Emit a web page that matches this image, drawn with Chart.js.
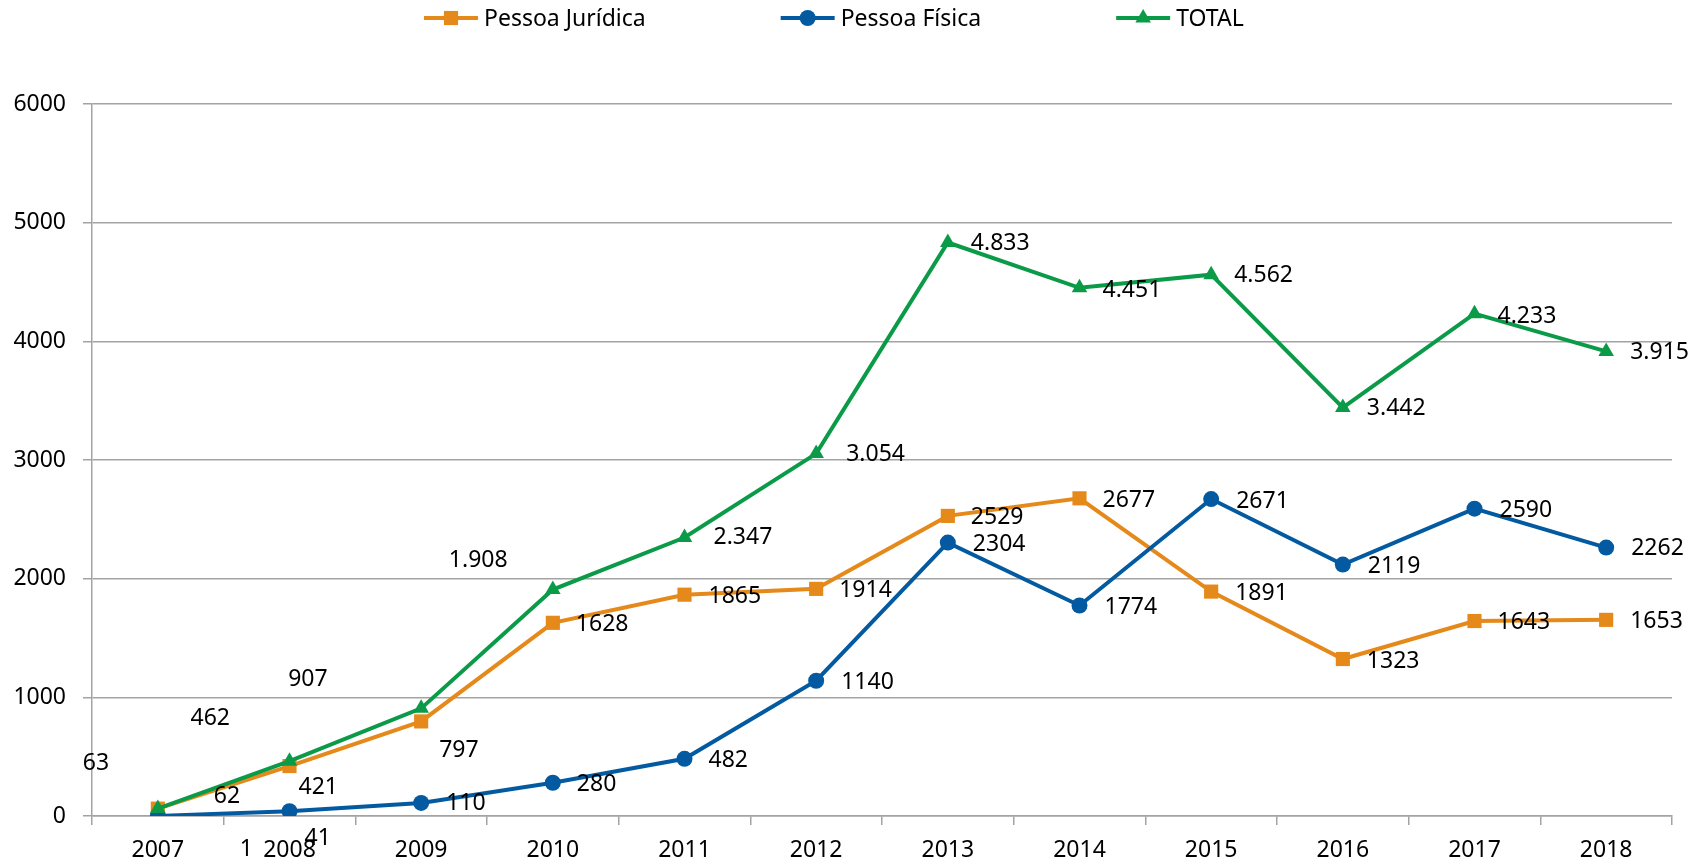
<!DOCTYPE html>
<html>
<head>
<meta charset="utf-8">
<script src="https://cdn.jsdelivr.net/npm/chart.js@4.4.0/dist/chart.umd.min.js"></script>
<style>
  html, body { margin: 0; padding: 0; background: #ffffff; }
  #wrap { width: 1695px; height: 865px; position: relative; }
  canvas { display: block; }
</style>
</head>
<body>
<div id="wrap"><canvas id="c" width="1695" height="865"></canvas></div>
<script>
// ---- Data ----
const years = ['2007','2008','2009','2010','2011','2012','2013','2014','2015','2016','2017','2018'];
const pessoaJuridica = [62, 421, 797, 1628, 1865, 1914, 2529, 2677, 1891, 1323, 1643, 1653];
const pessoaFisica   = [1, 41, 110, 280, 482, 1140, 2304, 1774, 2671, 2119, 2590, 2262];
const total          = [63, 462, 907, 1908, 2347, 3054, 4833, 4451, 4562, 3442, 4233, 3915];
const yTicks = [0, 1000, 2000, 3000, 4000, 5000, 6000];

// ---- Styling: data-label offsets (px from point: left edge dx, vertical dy) ----
const offJuridica = [[56,-12],[9,21],[18,29],[23,2],[24,2],[23,2],[23,2],[23,2],[24,2],[24,2],[23,1],[24,2]];
const offFisica   = [[82,34],[15,27],[25,1],[24,2],[24,2],[25,2],[25,2],[25,2],[25,2],[25,2],[25,2],[25,1]];
const offTotal    = [[-75,-45],[-99,-43],[-133,-29],[-104,-29],[29,0],[30,1],[23,1],[23,3],[23,1],[24,1],[23,3],[24,1]];

const FONT = '"Noto Sans", "DejaVu Sans", sans-serif';
const FS = 23;
const ORANGE = '#E5891A';
const BLUE = '#035AA0';
const GREEN = '#0B9B48';
const GRID = '#a3a3a3';

function thousandsDot(v) {
  return String(v).replace(/\B(?=(\d{3})+(?!\d))/g, '.');
}

const labelPlugin = {
  id: 'valueLabels',
  afterDatasetsDraw(chart) {
    const ctx = chart.ctx;
    ctx.save();
    ctx.font = FS + 'px ' + FONT;
    ctx.fillStyle = '#000';
    ctx.textAlign = 'left';
    ctx.textBaseline = 'middle';
    chart.data.datasets.forEach((ds, di) => {
      const meta = chart.getDatasetMeta(di);
      meta.data.forEach((pt, i) => {
        const o = ds.labelOffsets[i];
        const txt = ds.labelFormat ? ds.labelFormat(ds.data[i]) : String(ds.data[i]);
        ctx.fillText(txt, pt.x + o[0], pt.y + o[1]);
      });
    });
    ctx.restore();
  }
};

const legendPlugin = {
  id: 'lineLegend',
  afterDraw(chart) {
    const ctx = chart.ctx;
    ctx.save();
    ctx.font = FS + 'px ' + FONT;
    ctx.textAlign = 'left';
    ctx.textBaseline = 'middle';
    const cy = 18;
    let x = 424;
    chart.data.datasets.forEach((ds) => {
      ctx.strokeStyle = ds.borderColor;
      ctx.lineWidth = 4;
      ctx.beginPath();
      ctx.moveTo(x, cy);
      ctx.lineTo(x + 54, cy);
      ctx.stroke();
      ctx.fillStyle = ds.borderColor;
      Chart.helpers.drawPoint(ctx, {pointStyle: ds.pointStyle, radius: ds.pointRadius, rotation: 0, borderWidth: 0}, x + 27, cy);
      ctx.fillStyle = '#000';
      ctx.fillText(ds.label, x + 60, cy + 1);
      x += 60 + ctx.measureText(ds.label).width + 135;
    });
    ctx.restore();
  }
};

new Chart(document.getElementById('c'), {
  type: 'line',
  data: {
    labels: years,
    datasets: [
      {
        label: 'Pessoa Jurídica',
        data: pessoaJuridica,
        borderColor: ORANGE,
        backgroundColor: ORANGE,
        borderWidth: 4,
        pointStyle: 'rect',
        pointRadius: 10,
        pointBorderWidth: 0,
        tension: 0,
        order: 3,
        labelOffsets: offJuridica
      },
      {
        label: 'Pessoa Física',
        data: pessoaFisica,
        borderColor: BLUE,
        backgroundColor: BLUE,
        borderWidth: 4,
        pointStyle: 'circle',
        pointRadius: 8,
        pointBorderWidth: 0,
        tension: 0,
        order: 2,
        labelOffsets: offFisica
      },
      {
        label: 'TOTAL',
        data: total,
        borderColor: GREEN,
        backgroundColor: GREEN,
        borderWidth: 4,
        pointStyle: 'triangle',
        pointRadius: 9,
        pointBorderWidth: 0,
        tension: 0,
        order: 1,
        labelOffsets: offTotal,
        labelFormat: thousandsDot
      }
    ]
  },
  options: {
    responsive: false,
    animation: false,
    devicePixelRatio: 1,
    layout: { padding: { top: 104, right: 23, bottom: 0, left: 0 } },
    plugins: {
      legend: { display: false },
      tooltip: { enabled: false },
      title: { display: false }
    },
    scales: {
      x: {
        type: 'category',
        offset: true,
        grid: {
          offset: true,
          drawOnChartArea: false,
          drawTicks: true,
          tickLength: 9,
          color: GRID,
          lineWidth: 1.5
        },
        border: { display: true, color: GRID, width: 1.5 },
        ticks: {
          color: '#000',
          font: { family: FONT, size: FS },
          padding: 12,
          maxRotation: 0,
          autoSkip: false
        },
        afterFit(s) { s.height = 49; s.paddingLeft = 0; s.paddingRight = 0; }
      },
      y: {
        min: 0,
        max: 6000,
        afterBuildTicks(s) { s.ticks = yTicks.map(v => ({ value: v })); },
        grid: {
          drawOnChartArea: true,
          drawTicks: true,
          tickLength: 9,
          color: GRID,
          lineWidth: 1.5
        },
        border: { display: true, color: GRID, width: 1.5 },
        ticks: {
          color: '#000',
          font: { family: FONT, size: FS },
          padding: 17,
          callback: (v) => String(v)
        },
        afterFit(s) { s.width = 92; s.paddingTop = 0; s.paddingBottom = 0; }
      }
    }
  },
  plugins: [labelPlugin, legendPlugin]
});
</script>
</body>
</html>
